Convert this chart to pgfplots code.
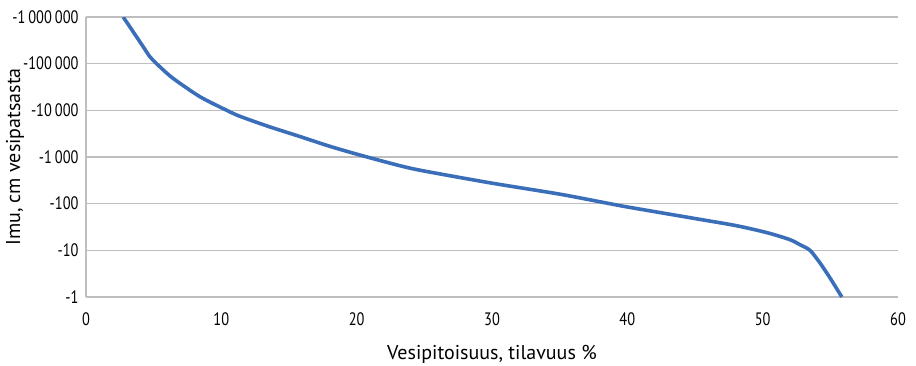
\documentclass[border=0pt]{standalone}
\usepackage{pgfplots}
\pgfplotsset{compat=1.18}
\usepackage{fontspec}
\setmainfont{PT Sans}
\newfontfamily\condfont{PT Sans}[FakeStretch=0.8]
\definecolor{lineblue}{RGB}{58,110,185}
\definecolor{gridgray}{RGB}{190,190,190}
\begin{document}
\begin{tikzpicture}
\useasboundingbox (-86pt,-68pt) rectangle (830pt,297pt);
\begin{axis}[
 scale only axis, width=812pt, height=280pt,
 at={(0pt,0pt)}, anchor=south west,
 xmin=0, xmax=60, ymin=1, ymax=1e6, ymode=log,
 xtick={0,10,20,30,40,50,60}, xticklabels={0,10,20,30,40,50,60},
 ytick={1,10,100,1000,10000,100000,1000000},
 yticklabels={-1,-10,-100,-1\,000,-10\,000,-100\,000,-1\,000\,000},
 ymajorgrids, grid style={gridgray, line width=1.6pt},
 axis x line*=bottom, axis y line*=left,
 axis line style={gridgray, line width=1.6pt, -},
 major tick length=0pt, minor tick length=0pt,
 ticklabel style={font=\condfont\fontsize{18}{18}\selectfont, text=black},
 xticklabel style={yshift=-12pt},
 yticklabel style={xshift=-4pt},
 xlabel={Vesipitoisuus, tilavuus \%},
 ylabel={Imu, cm vesipatsasta},
 label style={font=\fontsize{20}{20}\selectfont},
 xlabel style={at={(axis description cs:0.5,-0.205)}, anchor=center},
 ylabel style={at={(axis description cs:-0.0875,0.5)}, anchor=center},
]
\addplot[lineblue, line width=3.6pt, smooth, tension=0.45] table {
x y
2.75 1000000
3.49 480000
4.23 230000
4.73 140000
5.47 85000
6.45 48000
8.43 19500
10.4 10000
11.4 7400
13.5 4500
15.8 2750
18 1700
20.25 1100
23.2 650
25 500
30 275
35 160
38.7 100
40 85
45 48
48 34
50.3 24
52 17
52.8 13
53.5 10
54.25 5.3
55 2.5
55.85 1
};
\end{axis}
\end{tikzpicture}
\end{document}
